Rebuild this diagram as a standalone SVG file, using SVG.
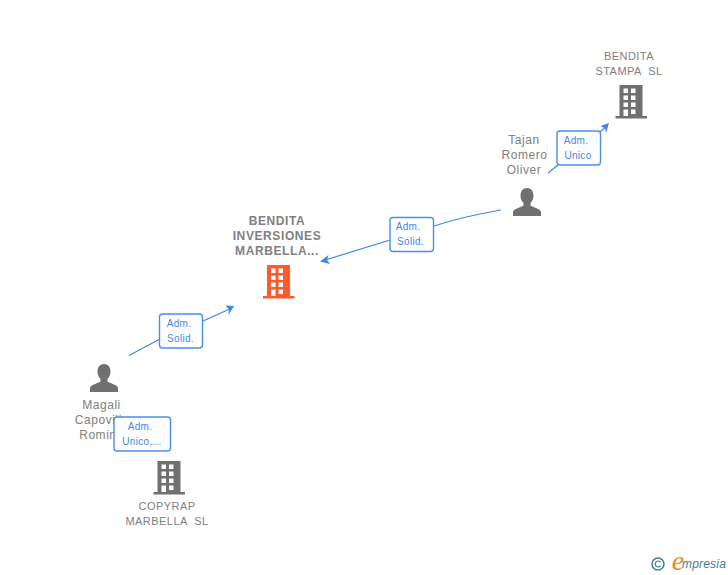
<svg xmlns="http://www.w3.org/2000/svg" width="728" height="575" viewBox="0 0 728 575">
<style>
text{font-family:"Liberation Sans",Arial,sans-serif;text-anchor:middle}
.n{font-size:12px;fill:#808080;letter-spacing:.55px}
.c{font-size:11px;fill:#808080;letter-spacing:.45px}
.h{font-size:12px;font-weight:bold;fill:#808080;letter-spacing:.6px}
.l{font-size:10px;fill:#3f86e8;letter-spacing:.3px}
.e{fill:none;stroke:#3f86e8;stroke-width:1.2}
.b{fill:#fff;stroke:#4a8fec;stroke-width:1.400}
.a{fill:#3f86e8}
</style>
<defs>
<symbol id="bld" viewBox="0 0 32 34" width="32" height="34" overflow="visible">
<path fill-rule="evenodd" d="M4 0H27V31H31.500V33.500H0V31H4ZM8 3.500V8H12.500V3.500ZM15.500 3.500V8H20V3.500ZM8 10.500V15H12.500V10.500ZM15.500 10.500V15H20V10.500ZM8 17.500V22H12.500V17.500ZM15.500 17.500V22H20V17.500ZM8 24.500V31H12.500V24.500ZM15.500 24.500V29H20V24.500Z"/>
</symbol>
<symbol id="per" viewBox="0 0 28 28" width="28" height="28" overflow="visible">
<path fill="#707070" d="M14 0C18 0 20.500 3 20.500 7.500C20.500 11 19 13.500 17.500 15V17.500C20 19.500 27.500 20.500 28 24V28H0V24C.5 20.500 8 19.500 10.500 17.500V15C9 13.500 7.500 11 7.500 7.500C7.500 3 10 0 14 0Z"/>
</symbol>
</defs>
<g id="connectors">
<path class="e" d="M129 355.500L160 339M203 321L232 308"/>
<path class="a" d="M234 306L225.500 305.500L229 309.500L228.500 315Z"/>
<path class="e" d="M501 210C478 214 455 219 434 226M390 240L322 261"/>
<path class="a" d="M320 261.500L328.500 255L327 260L330 264Z"/>
<path class="e" d="M548 173L558 165M600 132L607 126"/>
<path class="a" d="M609 123L600.500 126L605 128.500L606 133Z"/>
</g>
<g id="node-magali">
<use href="#per" x="90" y="364"/>
<text class="n"><tspan x="101.500" y="409">Magali</tspan><tspan x="102" y="424">Capovilla</tspan><tspan x="101.500" y="439">Romina</tspan></text>
</g>
<g id="node-tajan">
<use href="#per" x="513" y="188"/>
<text class="n"><tspan x="524" y="144">Tajan</tspan><tspan x="524.500" y="159">Romero</tspan><tspan x="524" y="174">Oliver</tspan></text>
</g>
<g id="node-bendita-inversiones">
<text class="h"><tspan x="277" y="225">BENDITA</tspan><tspan x="277" y="240">INVERSIONES</tspan><tspan x="277" y="255">MARBELLA...</tspan></text>
<use href="#bld" x="263" y="265" fill="#ff5a2b"/>
</g>
<g id="node-bendita-stampa">
<text class="c" xml:space="preserve"><tspan x="629" y="60">BENDITA</tspan><tspan x="629" y="75">STAMPA  SL</tspan></text>
<use href="#bld" x="615.500" y="85" fill="#707070"/>
</g>
<g id="node-copyrap">
<use href="#bld" x="153.500" y="461" fill="#707070"/>
<text class="c" xml:space="preserve"><tspan x="167" y="510">COPYRAP</tspan><tspan x="167" y="525">MARBELLA  SL</tspan></text>
</g>
<g id="edge-labels">
<rect class="b" x="159.500" y="314" width="43" height="34" rx="3"/>
<text class="l"><tspan x="179" y="327">Adm.</tspan><tspan x="180.500" y="342">Solid.</tspan></text>
<rect class="b" x="390" y="217.500" width="43.500" height="34" rx="3"/>
<text class="l"><tspan x="408" y="230">Adm.</tspan><tspan x="410.500" y="245">Solid.</tspan></text>
<rect class="b" x="557" y="131" width="43.500" height="34" rx="3"/>
<text class="l"><tspan x="576" y="144">Adm.</tspan><tspan x="578" y="159">Unico</tspan></text>
<rect class="b" x="114" y="417" width="56.500" height="34" rx="3"/>
<text class="l"><tspan x="140" y="430">Adm.</tspan><tspan x="142" y="445">Unico,...</tspan></text>
</g>
<g id="logo">
<circle cx="658" cy="564" r="6" fill="none" stroke="#3d7f97" stroke-width="1.500"/>
<path d="M660.500 562A3 3 0 1 0 660.500 566" fill="none" stroke="#3d7f97" stroke-width="1.200"/>
<text x="678" y="570" style="font-family:'Liberation Serif',serif;font-style:italic;font-size:28px;fill:#f08a1d">e</text>
<text x="704" y="568" style="font-style:italic;font-size:12px;fill:#3d7f97;letter-spacing:.2px">mpresia</text>
</g>
</svg>
